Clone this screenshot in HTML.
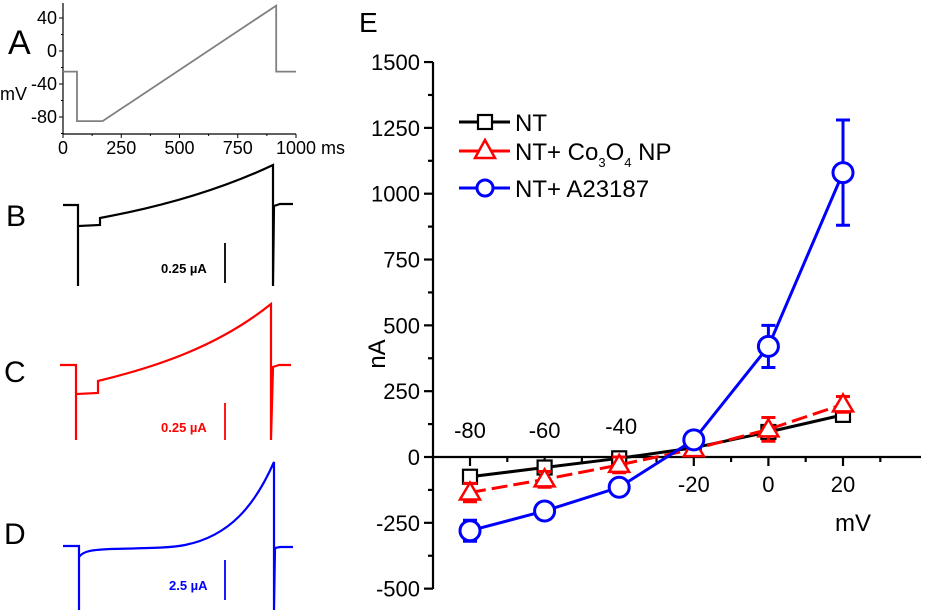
<!DOCTYPE html>
<html><head><meta charset="utf-8"><style>
body{margin:0;background:#fff}
svg{display:block;font-family:"Liberation Sans",Arial,sans-serif}
</style></head><body>
<svg width="926" height="612" viewBox="0 0 926 612">
<g id="pa">
<text x="8" y="54" font-size="34">A</text>
<text x="0" y="100" font-size="18">mV</text>
<text x="321" y="154" font-size="18">ms</text>
</g>
<g>
<text x="6" y="226" font-size="30">B</text>
<path d="M63,205 L78,205 L78,286 L78,226 L100,225 L100,218 C160,207 220,190 273,165 L273,286 L274,206 L280,204 L293,204" fill="none" stroke="#000" stroke-width="2.2"/>
<line x1="225" y1="243" x2="225" y2="283" stroke="#000" stroke-width="1.8"/>
<text x="161" y="273" font-size="13" font-weight="bold">0.25 µA</text>
</g>
<g>
<text x="4" y="382" font-size="30">C</text>
<path d="M60,365 L76,365 L76,440 L76,394 L98,393 L98,381 C160,366 220,345 271,304 L271,440 L273,367 L279,365 L291,365" fill="none" stroke="#f00" stroke-width="2.2"/>
<line x1="225" y1="403" x2="225" y2="440" stroke="#f00" stroke-width="1.8"/>
<text x="161" y="432" font-size="13" font-weight="bold" fill="#f00">0.25 µA</text>
</g>
<g>
<text x="4" y="544" font-size="30">D</text>
<path d="M63,546 L79,546 L79,610 L79,557 C84,550 95,550 110,549 C150,548 170,548 185,545 C230,536 255,505 274,462 L274,610 L275,548 L280,547 L293,547" fill="none" stroke="#00f" stroke-width="2.2"/>
<line x1="225" y1="560" x2="225" y2="600" stroke="#00f" stroke-width="1.8"/>
<text x="169" y="590" font-size="13" font-weight="bold" fill="#00f">2.5 µA</text>
</g>
<g id="pe">
<text x="359" y="32" font-size="28">E</text>
<text transform="translate(385,354) rotate(-90)" font-size="24" text-anchor="middle">nA</text>
<text x="835" y="531" font-size="24">mV</text>
</g>
</svg>
<script>
const NS="http://www.w3.org/2000/svg";
function mk(parent,tag,attrs){const e=document.createElementNS(NS,tag);for(const k in attrs)e.setAttribute(k,attrs[k]);parent.appendChild(e);return e;}
const aTicksY=[40,0,-40,-80];
const aTicksX=[0,250,500,750,1000];
const stepT=[0,60,60,170,915,915,1000];
const stepV=[-25,-25,-85,-85,55,-25,-25];
const pa=document.getElementById('pa');
const ax=t=>63+(t/1000)*233;
const ay=v=>51-(v/40)*33;
mk(pa,'line',{x1:63,y1:3,x2:63,y2:134,stroke:'#000','stroke-width':1.2});
mk(pa,'line',{x1:63,y1:134,x2:296,y2:134,stroke:'#000','stroke-width':1.2});
aTicksY.forEach(v=>{
 const t=mk(pa,'text',{x:57,y:ay(v)+6,'font-size':18,'text-anchor':'end'});t.textContent=v;
 
 
 mk(pa,'line',{x1:59,y1:ay(v),x2:63,y2:ay(v),stroke:'#000'});
 mk(pa,'line',{x1:61,y1:ay(v-20),x2:63,y2:ay(v-20),stroke:'#000'});
});
aTicksX.forEach(v=>{
 const t=mk(pa,'text',{x:ax(v),y:154,'font-size':18,'text-anchor':'middle'});t.textContent=v;
 
 
 mk(pa,'line',{x1:ax(v),y1:134,x2:ax(v),y2:138,stroke:'#000'});
 if(v<1000) mk(pa,'line',{x1:ax(v+125),y1:134,x2:ax(v+125),y2:136,stroke:'#000'});
});
let d='';stepT.forEach((t,i)=>{d+=(i?'L':'M')+ax(t)+','+ay(stepV[i]);});
const pp=mk(pa,'path',{d:d,fill:'none',stroke:'#808080','stroke-width':1.8});



const voltages=[-80,-60,-40,-20,0,20];
const ntValues=[-75,-40,-5,35,95,160];
const ntErr=[15,12,10,8,15,15];
const coValues=[-135,-85,-30,30,105,200];
const coErr=[35,30,30,25,45,30];
const aValues=[-280,-205,-115,65,420,1080];
const aErr=[40,30,20,10,80,200];
const yTicks=[-500,-250,0,250,500,750,1000,1250,1500];
const xTicks=[-80,-60,-40,-20,0,20];
const pe=document.getElementById('pe');
const ex=v=>470+(v+80)*3.73;
const ey=v=>457-v*0.2633;
mk(pe,'line',{x1:433,y1:62,x2:433,y2:589,stroke:'#000','stroke-width':2.2});
mk(pe,'line',{x1:433,y1:457,x2:921,y2:457,stroke:'#000','stroke-width':2.2});
yTicks.forEach(v=>{
 mk(pe,'line',{x1:424,y1:ey(v),x2:433,y2:ey(v),stroke:'#000','stroke-width':2.2});
 if(v<1500) mk(pe,'line',{x1:428,y1:ey(v+125),x2:433,y2:ey(v+125),stroke:'#000','stroke-width':2.2});
 const t=mk(pe,'text',{x:420,y:ey(v)+8,'font-size':22,'text-anchor':'end'});t.textContent=v;
 
 
});
xTicks.forEach(v=>{
 mk(pe,'line',{x1:ex(v),y1:457,x2:ex(v),y2:466,stroke:'#000','stroke-width':2.2});
 mk(pe,'line',{x1:ex(v+10),y1:457,x2:ex(v+10),y2:462,stroke:'#000','stroke-width':2.2});
 const above=v<=-40;
 const t=mk(pe,'text',{x:ex(v)+(v===-40?2:0),y:above?(v===-40?434:438):492,'font-size':22,'text-anchor':'middle'});t.textContent=v;
 
 
});
function series(vals,errs,color,marker,name,dash){
 const g=mk(pe,'g',{});
 
 
 let d='';vals.forEach((v,i)=>{d+=(i?'L':'M')+ex(voltages[i])+','+ey(v);});
 mk(g,'path',{d:d,fill:'none',stroke:color,'stroke-width':3,'stroke-dasharray':dash||'none'});
 vals.forEach((v,i)=>{
  const x=ex(voltages[i]),y1=ey(v+errs[i]),y2=ey(v-errs[i]);
  mk(g,'path',{d:`M${x},${y1}L${x},${y2}M${x-7},${y1}L${x+7},${y1}M${x-7},${y2}L${x+7},${y2}`,stroke:color,'stroke-width':3,fill:'none'});
 });
 vals.forEach((v,i)=>{
  const x=ex(voltages[i]),y=ey(v);let m;
  if(marker==='sq') m=mk(g,'rect',{x:x-7,y:y-7,width:14,height:14,fill:'#fff',stroke:color,'stroke-width':2.2});
  else if(marker==='tri') m=mk(g,'path',{d:`M${x},${y-10}L${x+10},${y+7}L${x-10},${y+7}Z`,fill:'#fff',stroke:color,'stroke-width':2.5});
  else m=mk(g,'circle',{cx:x,cy:y,r:10,fill:'#fff',stroke:color,'stroke-width':3});
  
  
 });
}
series(ntValues,ntErr,'#000','sq','series-nt');
series(coValues,coErr,'#f00','tri','series-co3o4','16,6');
series(aValues,aErr,'#00f','circ','series-a23187');
const leg=mk(pe,'g',{});


[['#000','sq','NT',122],['#f00','tri','',151],['#00f','circ','NT+ A23187',188]].forEach(([c,m,l,y])=>{
 mk(leg,'line',{x1:459,y1:y,x2:510,y2:y,stroke:c,'stroke-width':3});
 const x=485;
 if(m==='sq') mk(leg,'rect',{x:x-7,y:y-7,width:14,height:14,fill:'#fff',stroke:c,'stroke-width':2.2});
 else if(m==='tri') mk(leg,'path',{d:`M${x},${y-11}L${x+10},${y+7}L${x-10},${y+7}Z`,fill:'#fff',stroke:c,'stroke-width':2.5});
 else mk(leg,'circle',{cx:x,cy:y,r:8,fill:'#fff',stroke:c,'stroke-width':3});
 const t=mk(leg,'text',{x:515,y:y+9,'font-size':24});
 
 
 if(l) t.textContent=l;
 else t.innerHTML='NT+ Co<tspan font-size="13" dy="7">3</tspan><tspan dy="-7">O</tspan><tspan font-size="13" dy="7">4</tspan><tspan dy="-7"> NP</tspan>';
});
</script>
</body></html>
